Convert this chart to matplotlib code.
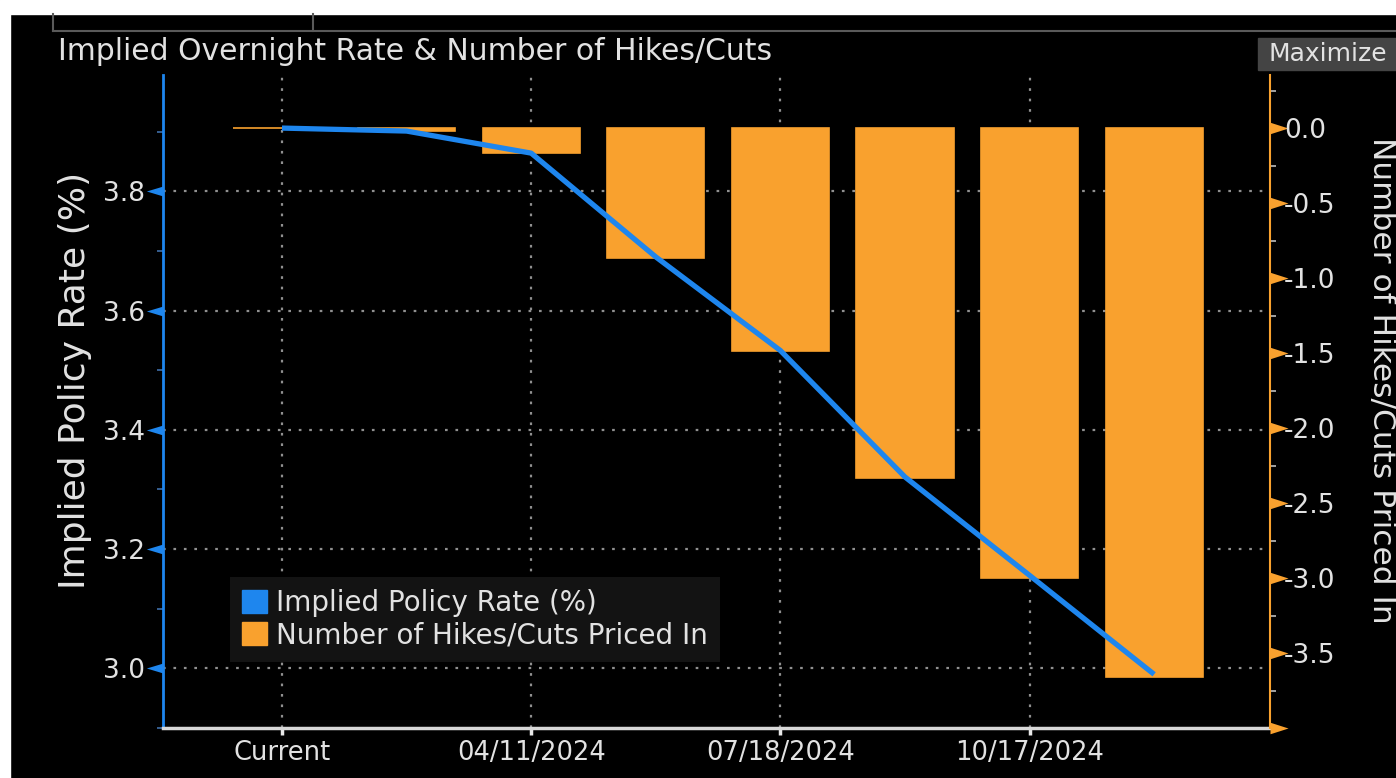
import numpy as np
import matplotlib.pyplot as plt
from matplotlib.patches import Rectangle, Patch
from matplotlib.lines import Line2D
from matplotlib.ticker import FuncFormatter

plt.rcParams['font.family'] = 'DejaVu Sans'
plt.rcParams['axes.unicode_minus'] = False

# data
tick_dates = ['Current', '04/11/2024', '07/18/2024', '10/17/2024']
tick_index = [0, 2, 4, 6]
implied_rate = [3.906, 3.901, 3.864, 3.690, 3.533, 3.321, 3.156, 2.990]   # %
hikes_cuts = [0.0, -0.02, -0.167, -0.863, -1.486, -2.336, -2.999, -3.661]

rate_ticks = [3.0, 3.2, 3.4, 3.6, 3.8]
rate_minor = [2.9, 3.1, 3.3, 3.5, 3.7, 3.9]
count_ticks = [-4.0, -3.5, -3.0, -2.5, -2.0, -1.5, -1.0, -0.5, 0.0]
count_minor = [-3.75, -3.25, -2.75, -2.25, -1.75, -1.25, -0.75, -0.25, 0.25]

blue = '#1e86ee'
orange = '#f9a12e'
txt = '#e2e2e2'
W, H = 1396, 778

fig = plt.figure(figsize=(W / 100, H / 100), dpi=100, facecolor='black')

# white margins of the screenshot + terminal frame lines
fig.patches.append(Rectangle((0, 1 - 14 / H), 1, 14 / H, transform=fig.transFigure, color='white'))
fig.patches.append(Rectangle((0, 0), 10 / W, 1, transform=fig.transFigure, color='white'))
frame = '#5a5a5a'
fig.lines.append(Line2D([53 / W, 1], [1 - 31 / H] * 2, transform=fig.transFigure, color=frame, lw=1.5))
fig.lines.append(Line2D([53 / W] * 2, [1 - 14 / H, 1 - 31 / H], transform=fig.transFigure, color=frame, lw=1.5))
fig.lines.append(Line2D([313 / W] * 2, [1 - 14 / H, 1 - 31 / H], transform=fig.transFigure, color=frame, lw=1.5))

rect = [163 / W, 1 - 728 / H, (1270 - 163) / W, (728 - 75) / H]
ax = fig.add_axes(rect)
ax.set_facecolor('black')
ax2 = ax.twinx()
ax3 = fig.add_axes(rect, sharex=ax, sharey=ax)
ax3.axis('off')
ax3.patch.set_visible(False)

x = np.arange(len(implied_rate))
ax2.bar(x, hikes_cuts, width=0.78, color=orange, edgecolor=orange, linewidth=1.2)
ax3.plot(x, implied_rate, color=blue, lw=3.8, solid_capstyle='butt')

ax.set_xlim(-0.955, 7.93)
ax.set_ylim(2.9, 3.995)
ax2.set_ylim(-4.0, 0.355)

# spines
for s in ['top', 'right']:
    ax.spines[s].set_visible(False)
for s in ['top', 'left', 'bottom']:
    ax2.spines[s].set_visible(False)
ax.spines['left'].set_color(blue)
ax.spines['left'].set_linewidth(2)
ax.spines['bottom'].set_color('#d8d8d8')
ax.spines['bottom'].set_linewidth(2.5)
ax2.spines['right'].set_color(orange)
ax2.spines['right'].set_linewidth(1.5)

# grid
grid_style = dict(color='#909090', lw=1.6, linestyle=(0, (1.2, 3.5)))
ax.set_axisbelow(True)
ax.grid(True, which='major', **grid_style)

# x axis
ax.set_xticks(tick_index, tick_dates)
ax.tick_params(axis='x', colors='#e8e8e8', labelcolor=txt, labelsize=18.5, length=5, width=2.5, pad=4)

# left axis
ax.set_yticks(rate_ticks)
ax.set_yticks(rate_minor, minor=True)
ax.yaxis.set_major_formatter(FuncFormatter(lambda v, p: f'{v:.1f}'))
ax.tick_params(axis='y', which='major', labelcolor=txt, labelsize=19, length=11, pad=2)
ax.tick_params(axis='y', which='minor', color='#3f6ea8', length=4, width=1.2)
for t in ax.yaxis.get_major_ticks():
    t.tick1line.set_marker([(0, -0.3), (-1, 0), (0, 0.3)])
    t.tick1line.set_markersize(24)
    t.tick1line.set_color(blue)
    t.tick1line.set_markeredgewidth(0)

# right axis
ax2.set_yticks(count_ticks)
ax2.set_yticks(count_minor, minor=True)
ax2.yaxis.set_major_formatter(FuncFormatter(lambda v, p: '' if v < -3.9 else f'{v:.1f}'))
ax2.tick_params(axis='y', which='major', labelcolor=txt, labelsize=19, length=8, pad=2)
ax2.tick_params(axis='y', which='minor', color='#bdbdbd', length=4, width=1.2)
for t in ax2.yaxis.get_major_ticks():
    t.tick2line.set_marker([(0, -0.32), (1, 0), (0, 0.32)])
    t.tick2line.set_markersize(26)
    t.tick2line.set_color(orange)
    t.tick2line.set_markeredgewidth(0)

# axis titles
fig.text(75 / W, 1 - 380 / H, 'Implied Policy Rate (%)', rotation=90, ha='center', va='center',
         fontsize=26, color=txt)
fig.text(1381 / W, 1 - 380 / H, 'Number of Hikes/Cuts Priced In', rotation=270, ha='center', va='center',
         fontsize=22.5, color=txt)

# title and button
fig.text(58 / W, 1 - 52 / H, 'Implied Overnight Rate & Number of Hikes/Cuts', ha='left', va='center',
         fontsize=21.5, color=txt)
fig.patches.append(Rectangle((1258 / W, 1 - 70 / H), 138 / W, 32 / H, transform=fig.transFigure, color='#444444'))
fig.text(1328 / W, 1 - 54 / H, 'Maximize', ha='center', va='center', fontsize=18, color=txt)

# legend
handles = [Patch(color=blue, label='Implied Policy Rate (%)'),
           Patch(color=orange, label='Number of Hikes/Cuts Priced In')]
leg = ax3.legend(handles=handles, loc='lower left', bbox_to_anchor=(0.0605, 0.101), fontsize=20,
                 frameon=True, facecolor='#131313', edgecolor='none', framealpha=1, fancybox=False,
                 handlelength=0.9, handleheight=0.9, handletextpad=0.3, borderpad=0.45, labelspacing=0.15,
                 borderaxespad=0)
for t in leg.get_texts():
    t.set_color(txt)

fig.savefig('out.png', dpi=100, facecolor=fig.get_facecolor())
